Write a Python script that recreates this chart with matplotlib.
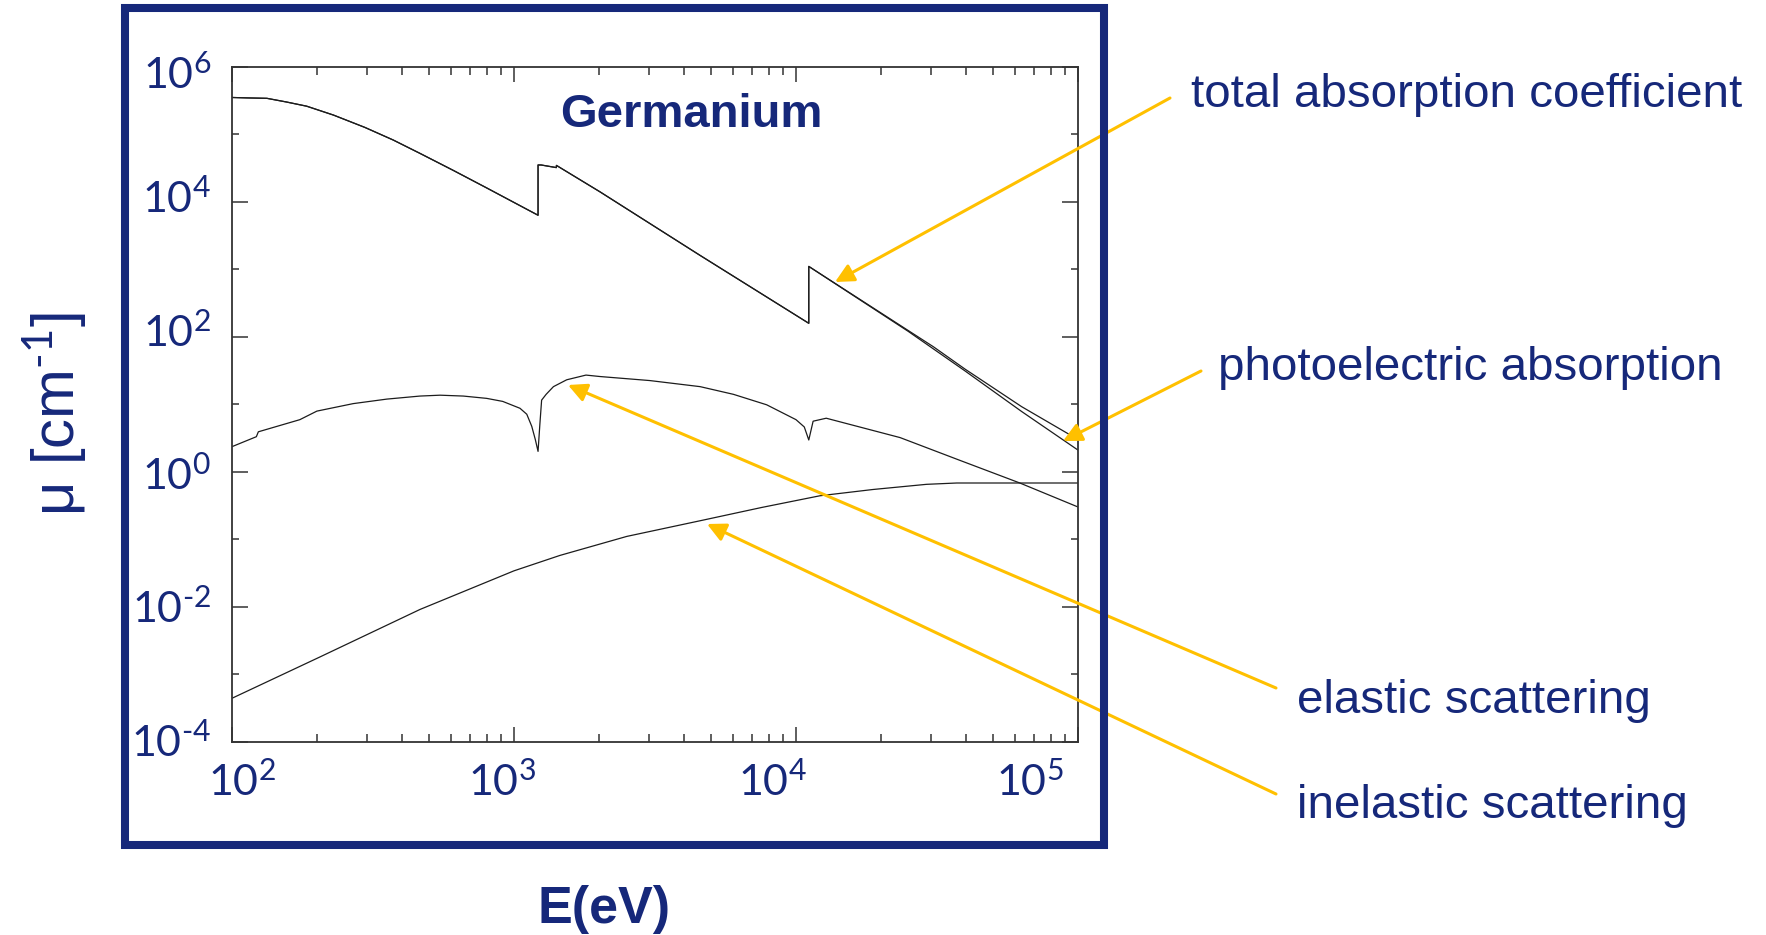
import numpy as np
import matplotlib
matplotlib.use('Agg')
import matplotlib.pyplot as plt
from matplotlib.patches import Rectangle
from matplotlib.transforms import ScaledTranslation
from matplotlib.ticker import LogLocator, NullFormatter, FixedLocator

plt.rcParams['mathtext.fontset'] = 'custom'
plt.rcParams['mathtext.rm'] = 'Lato'
plt.rcParams['mathtext.it'] = 'Lato:italic'
plt.rcParams['mathtext.bf'] = 'Lato:bold'
plt.rcParams['mathtext.sf'] = 'Liberation Sans'
plt.rcParams['font.family'] = ['Liberation Sans', 'DejaVu Sans']

W, H = 1766, 935
NAVY = '#16287A'
GOLD = '#FFC000'
LINE = '#1c1c1c'

# ---------------- data (energy in eV, mu in cm^-1) ----------------
total_E = [100, 113, 133, 156, 184, 229, 296, 373, 464, 610, 800, 1217, 1217, 1248, 1413,
           1414, 2018, 4571, 11100, 11100, 30700, 39800, 63100, 100000]
total_mu = [3.5e5, 3.45e5, 3.4e5, 3.0e5, 2.6e5, 1.92e5, 1.26e5, 8.2e4, 5.2e4, 2.9e4, 1.6e4,
            6.3e3, 3.5e4, 3.5e4, 3.2e4, 3.45e4, 1.4e4, 1.6e3, 158, 1.1e3, 71, 33, 9.2, 3.0]

photo_E = [100, 113, 133, 156, 184, 229, 296, 373, 464, 610, 800, 1217, 1217, 1248, 1413,
           1414, 2018, 4571, 11100, 11100, 25000, 39800, 63100, 100000]
photo_mu = [3.5e5, 3.45e5, 3.4e5, 3.0e5, 2.6e5, 1.92e5, 1.26e5, 8.2e4, 5.2e4, 2.9e4, 1.6e4,
            6.3e3, 3.5e4, 3.5e4, 3.2e4, 3.45e4, 1.4e4, 1.6e3, 158, 1.1e3, 120, 31, 7.8, 2.09]

elastic_E = [100, 122, 124, 174, 200, 269, 354, 464, 547, 661, 800, 912, 1050, 1110, 1156,
             1190, 1217, 1235, 1253, 1300, 1380, 1538, 1800, 2018, 3030, 4571, 6000, 7870,
             10000, 10700, 11100, 11500, 12800, 23400, 38000, 62200, 100000]
elastic_mu = [2.35, 3.3, 3.9, 5.9, 7.9, 10.2, 11.9, 13.2, 13.6, 13.2, 12.2, 11.0, 8.7, 7.1,
              4.7, 3.0, 2.0, 5.0, 11.5, 14.0, 18.2, 23.0, 27.0, 25.7, 22.4, 18.2, 14.0, 9.8,
              5.9, 4.6, 2.95, 5.6, 6.2, 3.2, 1.48, 0.68, 0.30]

inelastic_E = [100, 205, 464, 1000, 1455, 2512, 4690, 7550, 12160, 18750, 29040, 37150, 100000]
inelastic_mu = [4.4e-4, 1.8e-3, 9.1e-3, 0.034, 0.0575, 0.11, 0.192, 0.295, 0.44, 0.545,
                0.65, 0.68, 0.68]

x_ticks = [1e2, 1e3, 1e4, 1e5]
x_ticklabels = ['$10^{2}$', '$10^{3}$', '$10^{4}$', '$10^{5}$']
y_ticks = [1e-4, 1e-2, 1e0, 1e2, 1e4, 1e6]
y_ticklabels = ['$10^{\\text{-4}}$', '$10^{\\text{-2}}$', '$10^{0}$', '$10^{2}$',
                '$10^{4}$', '$10^{6}$']
y_minor = [1e-3, 1e-1, 1e1, 1e3, 1e5]

annotations = ['total absorption coefficient', 'photoelectric absorption',
               'elastic scattering', 'inelastic scattering']

# ---------------- layout helpers ----------------
def fx(x):
    return x / W

def fy(y):
    return 1 - y / H

fig = plt.figure(figsize=(W / 100, H / 100), dpi=100)
fig.patch.set_facecolor('white')

ax_l, ax_r, ax_t, ax_b = 232, 1078, 66.7, 741.7
ax = fig.add_axes([fx(ax_l), fy(ax_b), (ax_r - ax_l) / W, (ax_b - ax_t) / H])

for E, mu in [(total_E, total_mu), (photo_E, photo_mu),
              (elastic_E, elastic_mu), (inelastic_E, inelastic_mu)]:
    ax.plot(E, mu, color=LINE, lw=0.9, solid_joinstyle='round')

ax.set_xscale('log')
ax.set_yscale('log')
ax.set_xlim(1e2, 1e5)
ax.set_ylim(1e-4, 1e6)

for s in ax.spines.values():
    s.set_color('#333333')
    s.set_linewidth(1.3)

ax.set_xticks(x_ticks)
ax.set_xticklabels(x_ticklabels)
ax.xaxis.set_minor_locator(LogLocator(base=10, subs=np.arange(2, 10)))
ax.xaxis.set_minor_formatter(NullFormatter())
ax.set_yticks(y_ticks)
ax.set_yticklabels(y_ticklabels)
ax.yaxis.set_minor_locator(FixedLocator(y_minor))
ax.yaxis.set_minor_formatter(NullFormatter())

ax.tick_params(axis='both', which='both', direction='in', top=True, right=True,
               color='#333333', width=1.1, labelcolor=NAVY, labelsize=31)
ax.tick_params(axis='x', which='major', length=11, pad=15)
ax.tick_params(axis='x', which='minor', length=5.5)
ax.tick_params(axis='y', which='major', length=11.5, pad=15)
ax.tick_params(axis='y', which='minor', length=5)

# small manual shifts of tick labels as placed in the original slide (pixels)
x_shift = [10, -12, -24, -48]
for t, dx in zip(ax.xaxis.get_major_ticks(), x_shift):
    lab = t.label1
    lab.set_transform(lab.get_transform() + ScaledTranslation(dx / 100, 0, fig.dpi_scale_trans))
y_shift = [-1, 0, 2, -6, -5, 6]
for t, dy in zip(ax.yaxis.get_major_ticks(), y_shift):
    lab = t.label1
    lab.set_transform(lab.get_transform() + ScaledTranslation(0, -dy / 100, fig.dpi_scale_trans))

# title inside the plot
fig.text(fx(691), fy(126.7), 'Germanium', ha='center', va='baseline',
         fontsize=34, fontweight='bold', color=NAVY)

# axis titles
fig.text(fx(604), fy(923), 'E(eV)', ha='center', va='baseline',
         fontsize=37.5, fontweight='bold', color=NAVY)
fig.text(fx(55), fy(414), 'μ [cm$^{\\text{-1}}$]', rotation=90, ha='center', va='center',
         fontsize=43, color=NAVY)

# outer frame
frame = Rectangle((fx(125), fy(844.5)), (1104 - 125) / W, (844.5 - 7.5) / H,
                  transform=fig.transFigure, fill=False, edgecolor=NAVY, linewidth=5.8,
                  zorder=10)
fig.add_artist(frame)

# annotation labels and arrows
label_pos = [(1191, 106.7), (1218, 380), (1297, 713.3), (1297, 818)]
arrow_start = [(1170, 98), (1201, 371), (1276, 688), (1276, 794)]
arrow_tip = [(835, 282), (1063, 441), (568, 385), (707, 524)]

for txt, (lx, ly), (sx, sy), (tx, ty) in zip(annotations, label_pos, arrow_start, arrow_tip):
    fig.text(fx(lx), fy(ly), txt, ha='left', va='baseline', fontsize=34.2, color=NAVY)
    ax.annotate('', xy=(fx(tx), fy(ty)), xycoords='figure fraction',
                xytext=(fx(sx), fy(sy)), textcoords='figure fraction',
                arrowprops=dict(arrowstyle='-|>', color=GOLD, lw=2.2,
                                mutation_scale=28, shrinkA=0, shrinkB=0),
                annotation_clip=False)

fig.savefig('out.png', dpi=100, facecolor='white')
